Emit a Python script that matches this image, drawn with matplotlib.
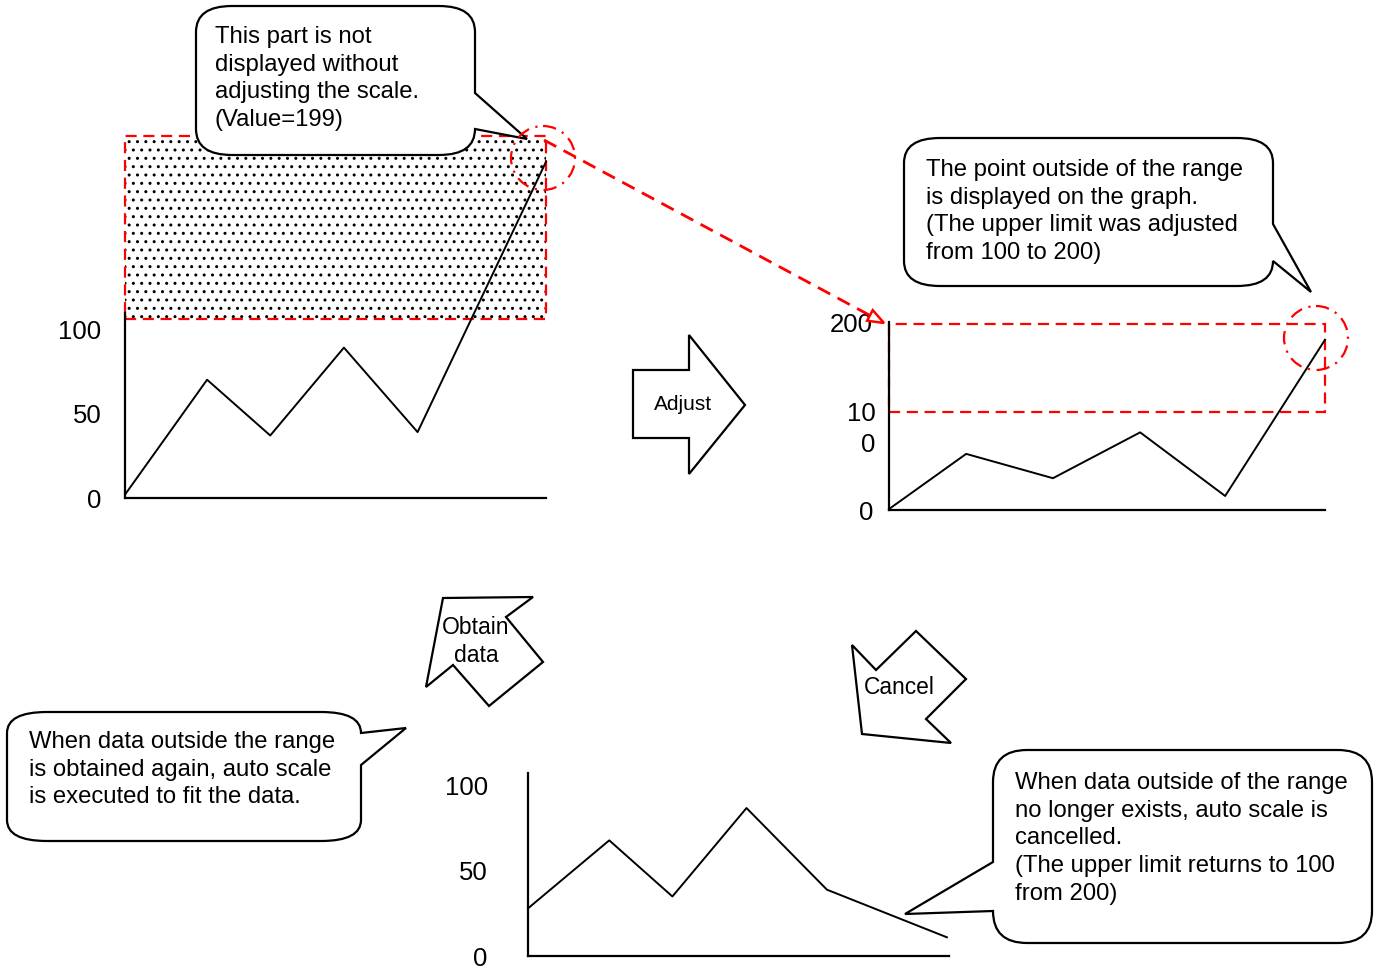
import numpy as np
import matplotlib
matplotlib.use("Agg")
import matplotlib.pyplot as plt
from matplotlib.patches import Rectangle, Polygon, Circle, PathPatch
from matplotlib.path import Path

plt.rcParams['font.family'] = ['Liberation Sans', 'DejaVu Sans']

W, H = 1376, 968

# chart 1 : before adjust (limit 100, one value is 199)
x_before = [0, 1.95, 3.45, 5.2, 6.95, 10]
y_before = [2, 70, 37, 89, 39, 199]
# chart 2 : after adjust (limit 200)
x_adjust = [0, 1.77, 3.76, 5.76, 7.71, 10]
y_adjust = [1, 60, 34, 83, 15, 182]
# chart 3 : after cancel (limit back to 100)
x_cancel = [0, 1.93, 3.43, 5.19, 7.1, 9.95]
y_cancel = [28, 68, 35, 87, 39, 11]

ticks_100 = [0, 50, 100]
labels_100 = ['0', '50', '100']
ticks_200 = [0, 100, 200]
labels_200 = ['0', '', '200']   # the 100 label is wrapped, drawn separately
wrapped_100 = '10\n0'

text_top = ["This part is not", "displayed without",
            "adjusting the scale.", "(Value=199)"]
text_right = ["The point outside of the range", "is displayed on the graph.",
              "(The upper limit was adjusted", "from 100 to 200)"]
text_left = ["When data outside the range", "is obtained again, auto scale",
             "is executed to fit the data."]
text_bottom = ["When data outside of the range", "no longer exists, auto scale is",
               "cancelled.", "(The upper limit returns to 100", "from 200)"]

fig = plt.figure(figsize=(13.76, 9.68), dpi=100)


def chart_axes(left, right, zero_y, top_y, ymax, ticks, labels, pad):
    ax = fig.add_axes([left / W, 1 - zero_y / H, (right - left) / W, (zero_y - top_y) / H])
    ax.set_xlim(0, 10)
    ax.set_ylim(0, ymax)
    ax.patch.set_alpha(0)
    for s in ['top', 'right']:
        ax.spines[s].set_visible(False)
    for s in ['left', 'bottom']:
        ax.spines[s].set_linewidth(1.6)
    ax.set_xticks([])
    ax.set_yticks(ticks)
    ax.set_yticklabels(labels)
    ax.tick_params(axis='y', length=0, pad=pad, labelsize=18.5)
    return ax


ax1 = chart_axes(125, 546, 498, 313, 109.5, ticks_100, labels_100, 17)
ax1.add_patch(Rectangle((0, 106), 10, 108, fill=False, hatch='..', lw=0,
                        edgecolor='black', clip_on=False, zorder=1))
ax1.add_patch(Rectangle((0, 106), 10, 108, fill=False, lw=1.6, edgecolor='red',
                        linestyle=(0, (5, 3)), clip_on=False, zorder=2))
ax1.plot(x_before, y_before, color='black', lw=1.4, clip_on=False, zorder=3)

ax2 = chart_axes(889, 1325, 510, 322, 201, ticks_200, labels_200, 11.5)
ax2.annotate(wrapped_100, xy=(0, ticks_200[1]), xycoords=('axes fraction', 'data'),
             xytext=(-9.5, -25.5), textcoords='offset points', ha='right',
             va='baseline', fontsize=18.5, linespacing=1.36)
ax2.add_patch(Rectangle((0, 105), 10, 94, fill=False, lw=1.6, edgecolor='red',
                        linestyle=(0, (5, 3)), clip_on=False, zorder=2))
ax2.plot(x_adjust, y_adjust, color='black', lw=1.4, clip_on=False, zorder=3)

ax3 = chart_axes(528, 949, 956, 773, 107.6, ticks_100, labels_100, 29)
ax3.plot(x_cancel, y_cancel, color='black', lw=1.4, clip_on=False, zorder=3)

# overlay in pixel coordinates for the callouts and arrows
ov = fig.add_axes([0, 0, 1, 1], zorder=5)
ov.set_xlim(0, W)
ov.set_ylim(H, 0)
ov.axis('off')
ov.patch.set_alpha(0)


def bubble(x0, y0, x1, y1, rx, ry, edge, a, b, tip):
    v = [(x0 + rx, y0)]
    c = [Path.MOVETO]

    def seg(pts):
        for p in pts:
            v.append(p)
            c.append(Path.LINETO)

    def corner(p, q):
        v.extend([p, q])
        c.extend([Path.CURVE3, Path.CURVE3])

    if edge == 'top':
        seg([(a, y0), tip, (b, y0)])
    seg([(x1 - rx, y0)])
    corner((x1, y0), (x1, y0 + ry))
    if edge == 'right':
        seg([(x1, a), tip, (x1, b)])
    seg([(x1, y1 - ry)])
    corner((x1, y1), (x1 - rx, y1))
    seg([(x0 + rx, y1)])
    corner((x0, y1), (x0, y1 - ry))
    if edge == 'left':
        seg([(x0, a), tip, (x0, b)])
    seg([(x0, y0 + ry)])
    corner((x0, y0), (x0 + rx, y0))
    v.append((x0 + rx, y0))
    c.append(Path.CLOSEPOLY)
    ov.add_patch(PathPatch(Path(v, c), facecolor='white', edgecolor='black', lw=1.6))


def lines_text(x, y, lines, dy=27.7, size=17.2):
    for i, s in enumerate(lines):
        ov.text(x, y + i * dy, s, fontsize=size, ha='left', va='baseline')


bubble(196, 6, 475, 155, 36, 26, 'right', 93, 129, (527, 139))
lines_text(215, 43, text_top)

bubble(904, 138, 1273, 286, 36, 25, 'right', 224, 261, (1311, 292))
lines_text(926, 176, text_right)

bubble(7, 712, 361, 841, 40, 21, 'right', 733, 765, (406, 728))
lines_text(29, 748, text_left)

bubble(993, 750, 1372, 943, 34, 32, 'left', 911, 862, (905, 914))
lines_text(1015, 789, text_bottom)

# red dash-dot circles
for cx, cy in [(543, 158), (1316, 338)]:
    ov.add_patch(Circle((cx, cy), 32, fill=False, edgecolor='red', lw=1.6,
                        linestyle=(0, (6, 3, 1, 3))))

# red dashed arrow from chart 1 to chart 2
start = np.array([544, 140])
tip = np.array([884, 323])
u = (tip - start) / np.linalg.norm(tip - start)
n = np.array([-u[1], u[0]])
base = tip - 16 * u
ov.plot([start[0], base[0]], [start[1], base[1]], color='red', lw=2,
        linestyle=(0, (5, 3)))
ov.add_patch(Polygon([tip, base + 6 * n, base - 6 * n], closed=True,
                     facecolor='white', edgecolor='red', lw=1.8))

# block arrows
adjust_shape = [(633, 370), (689, 370), (689, 335), (745, 405),
                (689, 474), (689, 438), (633, 438)]
obtain_shape = [(443, 598), (533, 597), (506, 617), (543, 662),
                (489, 706), (453, 665), (426, 687)]
cancel_shape = [(852, 645), (876, 670), (916, 631), (966, 679),
                (926, 719), (951, 743), (862, 734)]
for shp in [adjust_shape, obtain_shape, cancel_shape]:
    ov.add_patch(Polygon(shp, closed=True, facecolor='white', edgecolor='black', lw=1.6))

ov.text(683, 404, "Adjust", fontsize=15, ha='center', va='center')
ov.text(476, 628, "Obtain", fontsize=16.6, ha='center', va='center')
ov.text(476, 656, "data", fontsize=16.6, ha='center', va='center')
ov.text(899, 688, "Cancel", fontsize=16.4, ha='center', va='center')

fig.savefig("out.png", dpi=100)
